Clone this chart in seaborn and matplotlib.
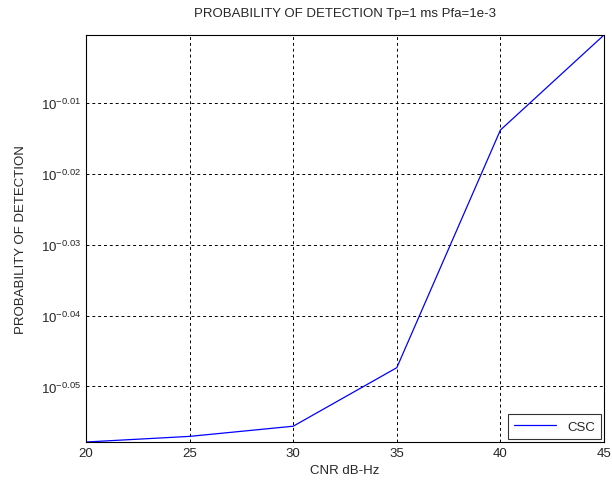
import matplotlib

matplotlib.use("Agg")
import matplotlib.pyplot as plt
import matplotlib.ticker as mticker
import numpy as np
import pandas as pd
import seaborn as sns

# values
cnr_db_hz = [20, 25, 30, 35, 40, 45]
pd_csc = [0.8753, 0.8769, 0.8798, 0.8967, 0.9687, 0.9991]
y_tick_exps = [-0.05, -0.04, -0.03, -0.02, -0.01]
x_ticks = [20, 25, 30, 35, 40, 45]

df = pd.DataFrame({"CNR": cnr_db_hz, "Pd": pd_csc, "method": "CSC"})

sns.set_style("white")
plt.rcParams["font.family"] = ["Liberation Sans", "DejaVu Sans"]
plt.rcParams["mathtext.fontset"] = "custom"
plt.rcParams["mathtext.rm"] = "Liberation Sans"
plt.rcParams["mathtext.it"] = "Liberation Sans"
plt.rcParams["axes.unicode_minus"] = False

fig = plt.figure(figsize=(6.12, 4.89), dpi=100)
ax = fig.add_axes([86 / 612, 46 / 489, 518 / 612, 407 / 489])

sns.lineplot(data=df, x="CNR", y="Pd", hue="method", palette=["#0000ff"],
             lw=0.9, ax=ax)

ax.set_yscale("log")
ax.set_xlim(20, 45)
ax.set_ylim(min(pd_csc), max(pd_csc))
ax.set_xticks(x_ticks)
ax.set_xticklabels([str(t) for t in x_ticks])
ax.yaxis.set_major_locator(mticker.FixedLocator([10 ** e for e in y_tick_exps]))
ax.yaxis.set_minor_locator(mticker.NullLocator())
ax.yaxis.set_major_formatter(mticker.FixedFormatter(
    [f"$10^{{\\mathrm{{-{abs(e):.2f}}}}}$" for e in y_tick_exps]))

ax.grid(True, color="black", linestyle=(0, (3, 3)), lw=0.7)
ax.tick_params(direction="in", labelsize=9.5, length=4, color="black")
for s in ax.spines.values():
    s.set_color("black")
    s.set_linewidth(0.8)

ax.set_xlabel("CNR dB-Hz", fontsize=9.5)
ax.set_ylabel("PROBABILITY OF DETECTION", fontsize=9.5, labelpad=10)
ax.set_title("PROBABILITY OF DETECTION Tp=1 ms Pfa=1e-3", fontsize=9.5, pad=14)

leg = ax.legend(loc="lower right", fontsize=9.5, frameon=True, fancybox=False,
                borderaxespad=0.2, handlelength=3.2, borderpad=0.5)
leg.get_frame().set_edgecolor("black")
leg.get_frame().set_linewidth(0.8)

fig.savefig("out.png", dpi=100)
